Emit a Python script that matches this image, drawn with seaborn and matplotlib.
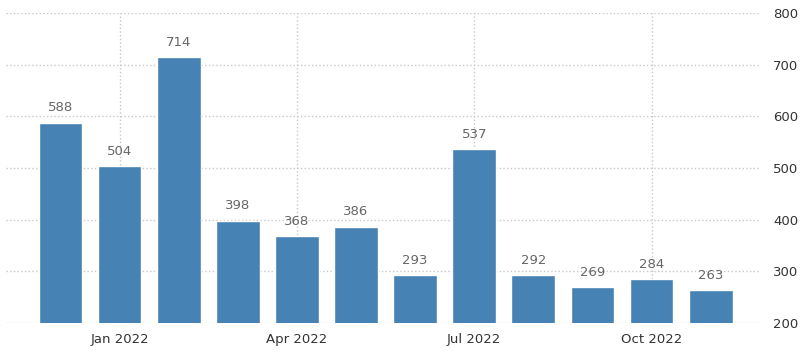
import pandas as pd
import seaborn as sns
import matplotlib.pyplot as plt

months = ["Dec 2021", "Jan 2022", "Feb 2022", "Mar 2022", "Apr 2022", "May 2022",
          "Jun 2022", "Jul 2022", "Aug 2022", "Sep 2022", "Oct 2022", "Nov 2022"]
values = [588, 504, 714, 398, 368, 386, 293, 537, 292, 269, 284, 263]
tick_labels = ["Jan 2022", "Apr 2022", "Jul 2022", "Oct 2022"]
yticks = [200, 300, 400, 500, 600, 700, 800]

df = pd.DataFrame({"Month": months, "Value": values})

sns.set_style("white")
plt.rcParams["font.family"] = ["DejaVu Sans"]

fig = plt.figure(figsize=(8, 3.54), dpi=100)
ax = fig.add_axes([0.0075, 0.088, 0.943, 0.875])

sns.barplot(data=df, x="Month", y="Value", color="#4682b4", saturation=1,
            width=0.74, ax=ax, zorder=3)

# Value labels above bars
for i, v in enumerate(values):
    ax.annotate(str(v), (i, v), xytext=(0, 6), textcoords="offset points",
                ha="center", va="bottom", fontsize=9.5, color="#666666")

ax.set_ylim(200, 800)
ax.set_xlim(-0.92, 11.84)
ax.set_yticks(yticks)
ax.set_xticks([months.index(m) for m in tick_labels])
ax.set_xticklabels(tick_labels)
ax.yaxis.tick_right()
ax.tick_params(axis="y", length=0, pad=9, labelsize=9.5, labelcolor="#333333")
ax.tick_params(axis="x", length=4, color="#cccccc", labelsize=9.5, labelcolor="#333333")

ax.grid(True, linestyle=":", color="#c8c8c8", linewidth=1, zorder=0)
ax.set_axisbelow(True)
for s in ax.spines.values():
    s.set_visible(False)
ax.set_xlabel("")
ax.set_ylabel("")

plt.savefig("out.png", dpi=100)
plt.close()
